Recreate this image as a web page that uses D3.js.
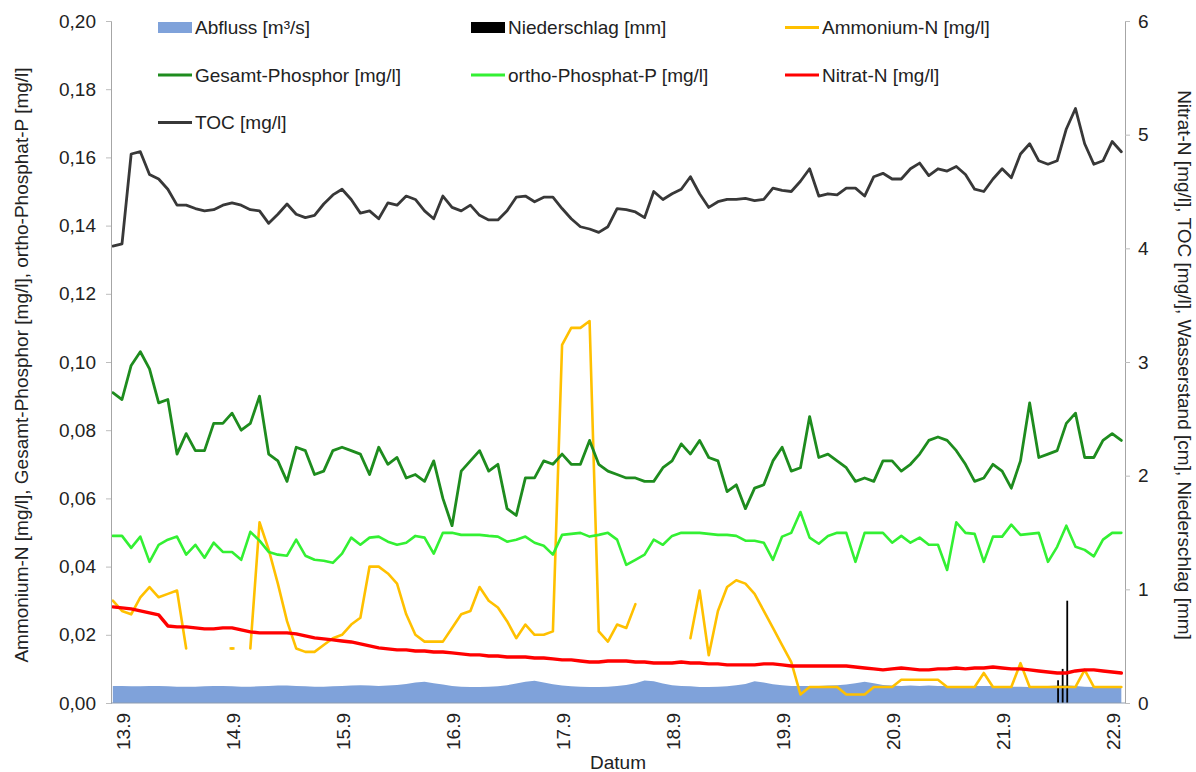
<!DOCTYPE html>
<html><head><meta charset="utf-8">
<script src="https://cdn.jsdelivr.net/npm/d3@7"></script>
<style>body{margin:0;background:#fff;} text{font-family:"Liberation Sans",Arial,sans-serif;}</style>
</head><body><svg id="c" width="1196" height="772"></svg>
<script>
// ---- data ----
const startHour = -2.2, stepHours = 2; // hours relative to 13.9 00:00
const dayLabels = ["13.9","14.9","15.9","16.9","17.9","18.9","19.9","20.9","21.9","22.9"];
const dayHours = [0,24,48,72,96,120,144,168,192,216];
const leftTicks = [0,0.02,0.04,0.06,0.08,0.10,0.12,0.14,0.16,0.18,0.20];
const rightTicks = [0,1,2,3,4,5,6];
const seriesNames = ["Abfluss [m³/s]","Niederschlag [mm]","Ammonium-N [mg/l]","Gesamt-Phosphor [mg/l]","ortho-Phosphat-P [mg/l]","Nitrat-N [mg/l]","TOC [mg/l]"];

const abfluss = [0.0050,0.0050,0.0049,0.0049,0.0050,0.0050,0.0049,0.0048,0.0048,0.0048,
0.0049,0.0050,0.0050,0.0049,0.0048,0.0048,0.0049,0.0050,0.0051,0.0051,
0.0050,0.0049,0.0048,0.0048,0.0049,0.0050,0.0051,0.0052,0.0051,0.0050,
0.0051,0.0053,0.0056,0.0060,0.0062,0.0058,0.0054,0.0050,0.0048,0.0047,
0.0047,0.0048,0.0049,0.0052,0.0057,0.0062,0.0065,0.0060,0.0055,0.0051,
0.0049,0.0048,0.0047,0.0047,0.0048,0.0050,0.0053,0.0058,0.0066,0.0064,
0.0057,0.0052,0.0050,0.0049,0.0047,0.0047,0.0048,0.0049,0.0052,0.0056,
0.0064,0.0060,0.0055,0.0052,0.0050,0.0050,0.0050,0.0050,0.0051,0.0052,
0.0054,0.0058,0.0062,0.0058,0.0053,0.0051,0.0050,0.0051,0.0050,0.0051,
0.0050,0.0050,0.0049,0.0049,0.0050,0.0050,0.0050,0.0049,0.0048,0.0048,
0.0047,0.0048,0.0050,0.0051,0.0052,0.0050,0.0048,0.0047,0.0048,0.0049,
0.0050];

const niederschlagHours = [204,205,206];
const niederschlag = [0.2,0.3,0.9];

const ammonium = [0.030,0.027,0.026,0.031,0.034,0.031,0.032,0.033,0.016,null,
null,null,null,0.016,null,0.016,0.053,0.045,0.035,0.024,
0.016,0.015,0.015,0.017,0.019,0.020,0.023,0.025,0.040,0.040,
0.038,0.035,0.026,0.020,0.018,0.018,0.018,0.022,0.026,0.027,
0.034,0.030,0.028,0.024,0.019,0.023,0.020,0.020,0.021,0.105,
0.110,0.110,0.112,0.021,0.018,0.023,0.022,0.029,null,null,
null,null,null,0.019,0.033,0.014,0.027,0.034,0.036,0.035,
0.032,0.027,0.022,0.017,0.012,0.0025,0.0047,0.0047,0.0047,0.0047,
0.0025,0.0025,0.0025,0.0047,0.0047,0.0047,0.0068,0.0068,0.0068,0.0068,
0.0068,0.0047,0.0047,0.0047,0.0047,0.0088,0.0047,0.0047,0.0047,0.0117,
0.0047,0.0047,0.0047,0.0047,0.0047,0.0047,0.0097,0.0047,0.0047,0.0047,
0.0047];

const gesamtP = [0.091,0.089,0.099,0.103,0.098,0.088,0.089,0.073,0.079,0.074,
0.074,0.082,0.082,0.085,0.080,0.082,0.090,0.073,0.071,0.065,
0.075,0.074,0.067,0.068,0.074,0.075,0.074,0.073,0.067,0.075,
0.070,0.072,0.066,0.067,0.065,0.071,0.060,0.052,0.068,0.071,
0.074,0.068,0.070,0.057,0.055,0.066,0.066,0.071,0.070,0.073,
0.070,0.070,0.077,0.070,0.068,0.067,0.066,0.066,0.065,0.065,
0.069,0.071,0.076,0.073,0.077,0.072,0.071,0.062,0.064,0.057,
0.063,0.064,0.071,0.075,0.068,0.069,0.084,0.072,0.073,0.071,
0.069,0.065,0.066,0.065,0.071,0.071,0.068,0.070,0.073,0.077,
0.078,0.077,0.074,0.070,0.065,0.066,0.070,0.068,0.063,0.071,
0.088,0.072,0.073,0.074,0.082,0.085,0.072,0.072,0.077,0.079,
0.077];

const orthoP = [0.049,0.049,0.0455,0.0488,0.0414,0.0464,0.0479,0.0488,0.0435,0.0464,
0.0426,0.047,0.0443,0.0443,0.042,0.0502,0.0476,0.0443,0.0435,0.0432,
0.0479,0.0432,0.042,0.0417,0.0411,0.0438,0.0485,0.0464,0.0485,0.0488,
0.0473,0.0464,0.047,0.049,0.0485,0.0438,0.0499,0.0499,0.0493,0.0493,
0.0493,0.049,0.0488,0.0473,0.0479,0.0488,0.047,0.0461,0.0435,0.0493,
0.0496,0.0499,0.0488,0.0493,0.0499,0.0479,0.0405,0.042,0.0435,0.0479,
0.0464,0.049,0.0499,0.0499,0.0499,0.0496,0.0493,0.0493,0.049,0.0476,
0.0476,0.047,0.042,0.0488,0.0499,0.056,0.0485,0.0467,0.049,0.0499,
0.0499,0.0414,0.0499,0.0499,0.0499,0.047,0.049,0.047,0.0485,0.0464,
0.0464,0.039,0.053,0.0499,0.0496,0.0414,0.0488,0.0488,0.0523,0.0493,
0.0496,0.0499,0.0414,0.0458,0.052,0.0458,0.0449,0.043,0.0479,0.0499,
0.0499];

const nitrat = [0.846,0.837,0.828,0.811,0.793,0.775,0.678,0.670,0.670,0.661,
0.652,0.652,0.661,0.661,0.643,0.626,0.617,0.617,0.617,0.617,
0.608,0.590,0.573,0.564,0.555,0.546,0.537,0.520,0.502,0.485,
0.476,0.467,0.467,0.458,0.458,0.449,0.449,0.441,0.432,0.423,
0.423,0.414,0.414,0.405,0.405,0.405,0.396,0.396,0.388,0.379,
0.379,0.370,0.361,0.361,0.370,0.370,0.370,0.361,0.361,0.352,
0.352,0.352,0.361,0.352,0.352,0.344,0.344,0.335,0.335,0.335,
0.335,0.344,0.344,0.335,0.326,0.326,0.326,0.326,0.326,0.326,
0.326,0.317,0.308,0.300,0.291,0.300,0.308,0.300,0.291,0.291,
0.300,0.300,0.308,0.300,0.308,0.308,0.317,0.308,0.300,0.300,
0.291,0.282,0.273,0.264,0.264,0.282,0.291,0.291,0.282,0.273,
0.264];

const toc = [4.02,4.04,4.83,4.85,4.65,4.61,4.52,4.38,4.38,4.35,
4.33,4.34,4.38,4.40,4.38,4.34,4.33,4.22,4.30,4.39,
4.30,4.27,4.29,4.39,4.47,4.52,4.43,4.31,4.33,4.26,
4.40,4.38,4.46,4.43,4.33,4.26,4.46,4.36,4.33,4.38,
4.29,4.25,4.25,4.33,4.45,4.46,4.41,4.45,4.45,4.35,
4.26,4.19,4.17,4.14,4.19,4.35,4.34,4.32,4.27,4.50,
4.43,4.48,4.52,4.63,4.48,4.36,4.41,4.43,4.43,4.44,
4.42,4.43,4.53,4.51,4.50,4.59,4.70,4.46,4.48,4.47,
4.53,4.53,4.46,4.63,4.66,4.61,4.61,4.70,4.75,4.64,
4.70,4.68,4.72,4.65,4.52,4.50,4.61,4.70,4.62,4.83,
4.92,4.77,4.74,4.77,5.05,5.23,4.92,4.74,4.77,4.94,
4.85];

// ---- styles ----
const colors = {abfluss:"#7fa2da", nieder:"#000000", amm:"#ffc000", gp:"#1e8c1e", op:"#33f033", nit:"#ff0000", toc:"#383838"};

const svg = d3.select("#c");
const W = 1196, H = 772;
const plot = {left:111, right:1125, top:21, bottom:703};

const x = d3.scaleLinear().domain([-2.6, 218.6]).range([plot.left, plot.right]);
const yL = d3.scaleLinear().domain([0, 0.2]).range([plot.bottom, plot.top]);
const yR = d3.scaleLinear().domain([0, 6]).range([plot.bottom, plot.top]);
const hourOf = i => startHour + i*stepHours;
const FS = 19;

// Abfluss area
const area = d3.area().x((d,i)=>x(hourOf(i))).y0(yL(0)).y1(d=>yL(d));
svg.append("path").datum(abfluss).attr("d", area).attr("fill", colors.abfluss);

// Niederschlag bars
svg.selectAll("rect.ns").data(niederschlag).enter().append("rect")
  .attr("x",(d,i)=>x(niederschlagHours[i])-0.9).attr("width",1.8)
  .attr("y",d=>yR(d)).attr("height",d=>yR(0)-yR(d)).attr("fill",colors.nieder);

function drawLine(data, yScale, color, width){
  const line = d3.line().defined(d=>d!==null).x((d,i)=>x(hourOf(i))).y(d=>yScale(d)).curve(d3.curveLinear);
  svg.append("path").datum(data).attr("d", line).attr("fill","none")
    .attr("stroke",color).attr("stroke-width",width).attr("stroke-linejoin","round").attr("stroke-linecap","round");
  // isolated points
  data.forEach((d,i)=>{
    if(d===null) return;
    const prev = i>0 ? data[i-1] : null, next = i<data.length-1 ? data[i+1] : null;
    if(prev===null && next===null){
      svg.append("line").attr("x1",x(hourOf(i))-2.5).attr("x2",x(hourOf(i))+2.5)
        .attr("y1",yScale(d)).attr("y2",yScale(d)).attr("stroke",color).attr("stroke-width",width);
    }
  });
}
drawLine(ammonium, yL, colors.amm, 2.6);
drawLine(gesamtP, yL, colors.gp, 2.8);
drawLine(orthoP, yL, colors.op, 2.6);
drawLine(nitrat, yR, colors.nit, 3.4);
drawLine(toc, yR, colors.toc, 2.8);

// axes
const axL = svg.append("g").attr("transform",`translate(${plot.left},0)`)
  .call(d3.axisLeft(yL).tickValues(leftTicks).tickFormat(d=>d.toFixed(2).replace(".",",")).tickSize(5).tickPadding(10));
const axR = svg.append("g").attr("transform",`translate(${plot.right},0)`)
  .call(d3.axisRight(yR).tickValues(rightTicks).tickFormat(d3.format("d")).tickSize(5).tickPadding(8));
[axL, axR].forEach(a=>{
  a.select(".domain").attr("stroke","#a6a6a6");
  a.selectAll(".tick line").attr("stroke","#bdbdbd");
  a.selectAll("text").attr("font-size",FS).attr("fill","#222").style("font-family",'"Liberation Sans",Arial,sans-serif');
});
// bottom axis line
svg.append("line").attr("x1",plot.left).attr("x2",plot.right).attr("y1",plot.bottom).attr("y2",plot.bottom)
  .attr("stroke","#8e9bb0").attr("stroke-width",1.2);

// x tick labels (rotated)
svg.selectAll("text.xt").data(dayLabels).enter().append("text")
  .attr("transform",(d,i)=>`translate(${x(dayHours[i])},713) rotate(-90)`)
  .attr("text-anchor","end").attr("dy","0.35em").attr("font-size",FS).attr("fill","#222").text(d=>d);

svg.append("text").attr("x",(plot.left+plot.right)/2).attr("y",769).attr("text-anchor","middle")
  .attr("font-size",FS).attr("fill","#222").text("Datum");

svg.append("text").attr("transform",`translate(28,365) rotate(-90)`).attr("text-anchor","middle")
  .attr("font-size",FS).attr("fill","#222")
  .text("Ammonium-N [mg/l], Gesamt-Phosphor [mg/l], ortho-Phosphat-P [mg/l]");
svg.append("text").attr("transform",`translate(1178,365) rotate(90)`).attr("text-anchor","middle")
  .attr("font-size",FS).attr("fill","#222")
  .text("Nitrat-N [mg/l], TOC [mg/l], Wasserstand [cm], Niederschlag [mm]");

// legend
const legendCols = [195, 508, 822], legendRows = [27.5, 75, 122.5];
const legendItems = [
  {name:seriesNames[0], type:"rect", color:colors.abfluss, col:0, row:0},
  {name:seriesNames[1], type:"rect", color:colors.nieder, col:1, row:0},
  {name:seriesNames[2], type:"line", color:colors.amm, col:2, row:0},
  {name:seriesNames[3], type:"line", color:colors.gp, col:0, row:1},
  {name:seriesNames[4], type:"line", color:colors.op, col:1, row:1},
  {name:seriesNames[5], type:"line", color:colors.nit, col:2, row:1},
  {name:seriesNames[6], type:"line", color:colors.toc, col:0, row:2}
];
legendItems.forEach(it=>{
  const tx = legendCols[it.col], cy = legendRows[it.row];
  if(it.type==="rect"){
    svg.append("rect").attr("x",tx-37).attr("y",cy-5.5).attr("width",34).attr("height",11).attr("fill",it.color);
  } else {
    svg.append("line").attr("x1",tx-37).attr("x2",tx-3).attr("y1",cy).attr("y2",cy)
      .attr("stroke",it.color).attr("stroke-width",3);
  }
  svg.append("text").attr("x",tx).attr("y",cy+6.8).attr("font-size",FS).attr("fill","#222").text(it.name);
});
</script>
</body></html>
